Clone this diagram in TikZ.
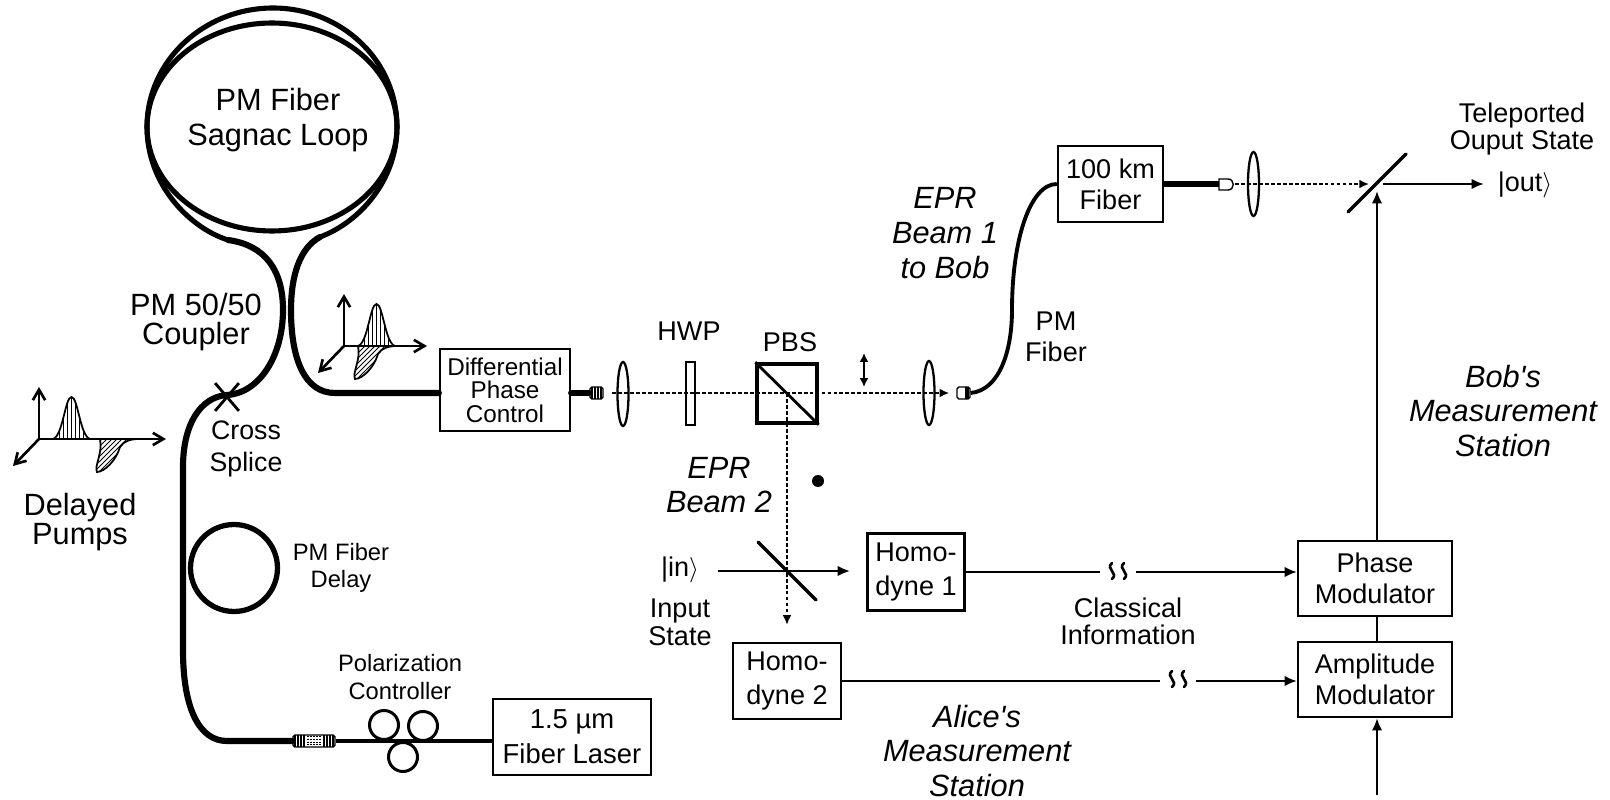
\documentclass[tikz,border=0pt]{standalone}
\usepackage{fontspec}
\setmainfont{Liberation Sans}
\usepackage{tikz}
\usetikzlibrary{arrows.meta,shapes,shapes.misc,calc}
\tikzstyle{devbox} = [rectangle, draw=black, line width=1.3pt, inner sep=0pt, align=center, font=\fontsize{15.4}{17.5}\selectfont]
\tikzstyle{lens} = [ellipse, draw=black, line width=1.3pt, inner sep=0pt, minimum width=0.22cm, minimum height=1.28cm]
\tikzstyle{fiber} = [line width=3.5pt, line cap=round]
\tikzstyle{loopfiber} = [line width=2.9pt]
\tikzstyle{thinfiber} = [line width=1.8pt]
\tikzstyle{beam} = [line width=1pt, dash pattern=on 2.2pt off 1.2pt, ->, >={Latex[length=5.5pt,width=5pt]}]
\tikzstyle{signal} = [line width=1.2pt, ->, >={Latex[length=7pt,width=6pt]}]
\tikzstyle{label} = [align=center, inner sep=0pt, font=\fontsize{15.4}{17.5}\selectfont]
\tikzstyle{biglabel} = [align=center, inner sep=0pt, font=\fontsize{17.5}{16}\selectfont]
\tikzstyle{smalllabel} = [align=center, inner sep=0pt, font=\fontsize{13.5}{15.5}\selectfont]
\tikzstyle{station} = [align=center, inner sep=0pt, font=\fontsize{17.5}{19.8}\selectfont\itshape]
\tikzstyle{paddle} = [circle, draw=black, line width=1.7pt, inner sep=0pt, minimum size=0.58cm]
\tikzstyle{connbox} = [rectangle, rounded corners=1pt, draw=black, fill=white, line width=0.8pt, inner sep=0pt]
\tikzstyle{axis} = [line width=1.5pt, ->, >={Straight Barb[length=6pt,width=7pt]}]
% two pulses on a set of axes: origin x, origin y, axis length, offset of the lower pulse
\newcommand{\pulses}[4]{
\begin{scope}[shift={(#1,#2)}]
\draw[axis] (0,0) -- (0,-52);
\draw[axis] (0,0) -- (#3,0);
\draw[axis] (0,0) -- (-26,27);
\begin{scope}
\clip (14,0) .. controls (24,-3) and (26,-42) .. (32.5,-42) .. controls (39,-42) and (41,-3) .. (51,0) -- cycle;
\foreach \i in {16,20,...,50} \draw[line width=0.5pt] (\i,0) -- (\i,-44);
\end{scope}
\draw[line width=1pt] (14,0) .. controls (24,-3) and (26,-42) .. (32.5,-42) .. controls (39,-42) and (41,-3) .. (51,0);
\begin{scope}[shift={(#4,0)}]
\clip (0,0) .. controls (3,14) and (-6,27) .. (-3,33) .. controls (4,33) and (16,22) .. (20,8) .. controls (24,2) and (30,0) .. (40,0) -- cycle;
\foreach \i in {-32,-27,...,28} \draw[line width=0.5pt] (\i,34) -- (\i+34,0);
\end{scope}
\begin{scope}[shift={(#4,0)}]
\draw[line width=1pt] (0,0) .. controls (3,14) and (-6,27) .. (-3,33) .. controls (4,33) and (16,22) .. (20,8) .. controls (24,2) and (30,0) .. (40,0);
\end{scope}
\end{scope}
}
% break in a classical line
\newcommand{\squiggle}[2]{
\foreach \k in {-6,6}
\draw[line width=1.5pt, line cap=round] (#1+\k,#2-8) .. controls (#1+\k-7,#2-2) and (#1+\k+7,#2+2) .. (#1+\k,#2+8);
}
\begin{document}
\begin{tikzpicture}[x=0.02cm, y=-0.02cm]
\useasboundingbox (0,0) rectangle (1610,800);

% Sagnac loop
\node[ellipse, draw=black, loopfiber, inner sep=0pt, minimum width=5cm, minimum height=4.16cm] (inner) at (272,127) {};
\coordinate (couplerl) at (228,240);
\coordinate (couplerr) at (320,237);
\draw[loopfiber] (couplerl) .. controls (190,228) and (147,185) .. (147,127) .. controls (147,60) and (205,8) .. (273,8) .. controls (341,8) and (397,60) .. (397,127) .. controls (397,180) and (360,222) .. (couplerr);
\node[biglabel, font=\fontsize{17.5}{20}\selectfont] (sagnac) at (278,120) {PM Fiber\\Sagnac Loop};

% Main devices
\node[devbox, minimum width=2.6cm, minimum height=1.64cm, font=\fontsize{13.8}{13.4}\selectfont] (diff) at (505,390) {Differential\\Phase\\Control};
\node[devbox, minimum width=3.16cm, minimum height=1.52cm, font=\fontsize{15.6}{19.8}\selectfont] (laser) at (572,737) {1.5 µm\\Fiber Laser};
\node[devbox, minimum width=2.1cm, minimum height=1.52cm] (km) at (1110.5,184) {100 km\\Fiber};
\node[devbox, minimum width=1.94cm, minimum height=1.54cm, font=\fontsize{15.4}{19.8}\selectfont] (hd1) at (916,572) {Homo-\\dyne 1};
\node[devbox, minimum width=2.16cm, minimum height=1.52cm, font=\fontsize{15.4}{19.8}\selectfont] (hd2) at (787,681) {Homo-\\dyne 2};
\node[devbox, minimum width=3.08cm, minimum height=1.5cm] (phase) at (1375,578.5) {Phase\\Modulator};
\node[devbox, minimum width=3.08cm, minimum height=1.5cm] (amp) at (1375,679.5) {Amplitude\\Modulator};

% Fibers
\coordinate (fiberbend) at (183,467);
\node[connbox, minimum width=0.84cm, minimum height=0.24cm] (pigtail) at (314,741) {};
\node[connbox, minimum width=0.26cm, minimum height=0.24cm] (colla) at (596.5,393) {};
\node[connbox, minimum width=0.26cm, minimum height=0.24cm] (collb) at (963.5,393) {};
\draw[fiber] (pigtail.west) -- (227,741) .. controls (200,741) and (183,710) .. (183,650) -- (fiberbend) .. controls (183,425) and (200,397) .. (227,395) .. controls (260,393) and (283,355) .. (283,310) .. controls (283,270) and (265,245) .. (couplerl);
\draw[fiber] (couplerr) .. controls (300,248) and (291,275) .. (291,310) .. controls (291,360) and (305,393) .. (335,393) -- (diff.west |- colla);
\draw[fiber] (diff.east |- colla) -- (colla.west);
\draw[thinfiber] (pigtail.east) -- (laser.west |- pigtail);
\draw[line width=2.2pt] (collb.east) .. controls (1000,390) and (1012,350) .. (1012,310) .. controls (1012,240) and (1030,184) .. (km.west);
\node[circle, draw=black, line width=3pt, inner sep=0pt, minimum size=1.74cm] (delay) at (234,568) {};
\node[cross out, draw=black, line width=1.6pt, inner sep=0pt, minimum width=0.42cm, minimum height=0.5cm] (splice) at (227,397) {};

% Connector stripes
\foreach \i in {295,298,301,304,324,327,330,333} \draw[line width=0.7pt] (\i,735) -- (\i,747);
\foreach \i in {308,311,...,320} \draw[line width=0.6pt, densely dotted] (\i,736) -- (\i,746);
\foreach \i in {592,595,598,601} \draw[line width=0.9pt] (\i,387) -- (\i,399);
\foreach \i in {966,968} \draw[line width=0.7pt] (\i,387) -- (\i,399);

% Polarization controller
\node[paddle] (pa) at (384,725) {};
\node[paddle] (pb) at (423,726) {};
\node[paddle] (pc) at (403,757) {};

% Free space optics
\node[lens] (lensa) at (623,394) {};
\node[rectangle, draw=black, line width=1.3pt, minimum width=0.18cm, minimum height=1.26cm, inner sep=0pt] (hwp) at (690.5,393.5) {};
\node[rectangle, draw=black, line width=2pt, minimum width=1.2cm, minimum height=1.18cm, inner sep=0pt] (pbs) at (787,393.5) {};
\draw[line width=1.6pt] (pbs.north west) -- (pbs.south east);
\node[lens] (lensb) at (929,393) {};
\draw[beam, shorten <=5pt, shorten >=4pt] (colla.east) -- (collb.west);
\draw[beam, shorten >=9.7pt] (pbs.center) -- (hd2.north);
\draw[line width=1.5pt, {Latex[length=5pt,width=5pt]}-{Latex[length=5pt,width=5pt]}] (864,353) -- (864,387);
\node[circle, fill=black, inner sep=0pt, minimum size=0.24cm] (dot) at (818,481) {};

% Fiber output
\node[lens] (lensc) at (1253.5,184) {};
\draw[line width=0.8pt, fill=white] (1219,179) -- (1228,179) .. controls (1235,179) and (1235,190) .. (1228,190) -- (1219,190) -- cycle;
\coordinate (plug) at (1219,184);
\coordinate (plugend) at (1235,184);
\coordinate (bsout) at (1377,184);
\draw[fiber, line cap=butt] (km.east) -- (plug);
\draw[beam] (plugend) -- (1369,184);

% Beam splitters and output
\draw[line width=2pt, line cap=round] (1348,212) -- (1406,154);
\draw[line width=2pt, line cap=round] (758,542) -- (816,600);
\coordinate (outstart) at (1383,184);
\node[inner sep=0pt, font=\fontsize{15.4}{17.5}\selectfont] (out) at (1525,185) {|out$\rangle$};
\draw[signal, line width=1.5pt] (outstart) -- (1484,184);
\draw[signal, line width=1.5pt] (phase.north -| bsout) -- (1377,191);
\draw[line width=1.5pt] (phase.south -| bsout) -- (amp.north -| bsout);
\coordinate (ampin) at (1377,795);
\draw[signal, line width=1.5pt] (ampin) -- (amp.south -| ampin);

% Homodyne lines
\node[inner sep=0pt, font=\fontsize{15.4}{17.5}\selectfont] (in) at (680,570) {|in$\rangle$};
\coordinate (instart) at (718,571);
\draw[signal] (instart) -- (850,571);
\coordinate (gapa) at (1100,572);
\coordinate (gapb) at (1136,572);
\coordinate (gapc) at (1160,681);
\coordinate (gapd) at (1196,681);
\draw[line width=1.2pt] (hd1.east) -- (gapa);
\draw[signal] (gapb) -- (phase.west |- gapb);
\squiggle{1118}{571}
\draw[line width=1.2pt] (hd2.east) -- (gapc);
\draw[signal] (gapd) -- (amp.west |- gapd);
\squiggle{1178}{679}

% Pulses
\pulses{39}{439}{127}{61}
\pulses{344}{346}{83}{14}

% Labels
\node[biglabel] (coupler) at (196,322) {PM 50/50\\Coupler};
\node[biglabel, font=\fontsize{15.2}{18}\selectfont] (crosslabel) at (246,449) {Cross\\Splice};
\node[biglabel] (pumps) at (80,522) {Delayed\\Pumps};
\node[smalllabel] (delaylabel) at (341,568) {PM Fiber\\Delay};
\node[smalllabel] (pclabel) at (400,677) {Polarization\\Controller};
\node[label] (hwplabel) at (689,331) {HWP};
\node[label] (pbslabel) at (790,342) {PBS};
\node[station] (eprb) at (719,485) {EPR\\Beam 2};
\node[station] (epra) at (945,233) {EPR\\Beam 1\\to Bob};
\node[label] (fiberlabel) at (1056,337) {PM\\Fiber};
\node[label, font=\fontsize{15.4}{15.8}\selectfont] (teleported) at (1522,129) {Teleported\\Ouput State};
\node[label, font=\fontsize{15.4}{15.8}\selectfont] (input) at (680,622) {Input\\State};
\node[label, font=\fontsize{15.4}{15.3}\selectfont] (classical) at (1128,621) {Classical\\Information};
\node[station] (alice) at (977,751) {Alice\textquotesingle s\\Measurement\\Station};
\node[station] (bob) at (1503,411) {Bob\textquotesingle s\\Measurement\\Station};
\end{tikzpicture}
\end{document}
